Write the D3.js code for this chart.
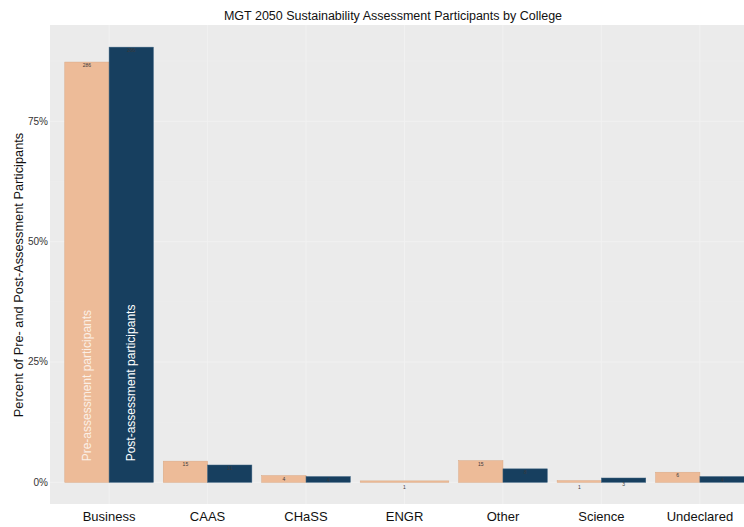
<!DOCTYPE html>
<html>
<head>
<meta charset="utf-8">
<script src="https://cdn.jsdelivr.net/npm/d3@7"></script>
<style>
  html, body { margin: 0; padding: 0; background: #ffffff; }
  svg { display: block; font-family: "Liberation Sans", Arial, sans-serif; }
</style>
</head>
<body>
<svg id="chart" width="744" height="527"></svg>
<script>
// ---- data ----
const categories = ["Business", "CAAS", "CHaSS", "ENGR", "Other", "Science", "Undeclared"];
const series = ["Pre-assessment participants", "Post-assessment participants"];
const prePct  = [87.3, 4.4, 1.4, 0.3, 4.5, 0.35, 2.1];
const postPct = [90.4, 3.6, 1.2, null, 2.8, 0.9, 1.2];
const preCount  = [286, 15, 4, 1, 15, 1, 6];
const postCount = [266, 11, 4, null, 8, 3, 4];
const yTicks = [0, 25, 50, 75];
const yTickLabels = ["0%", "25%", "50%", "75%"];

// ---- layout ----
const panel = { left: 50, right: 759, top: 25, bottom: 504 };
const colors = ["#EDBB98", "#173F5F"];

const svg = d3.select("#chart");

const x = d3.scaleBand()
  .domain(categories)
  .range([panel.left + 0.1 * 98.5, panel.right - 0.1 * 98.5])
  .paddingInner(0.1)
  .paddingOuter(0.05);
const xSub = d3.scaleBand().domain(series).range([0, x.bandwidth()]);

const y = d3.scaleLinear().domain([-4.5, 95]).range([panel.bottom, panel.top]);

svg.append("defs").append("clipPath").attr("id", "pclip")
  .append("rect").attr("x", panel.left).attr("y", panel.top)
  .attr("width", panel.right - panel.left).attr("height", panel.bottom - panel.top);

const g = svg.append("g").attr("clip-path", "url(#pclip)");
g.append("rect")
  .attr("x", panel.left).attr("y", panel.top)
  .attr("width", panel.right - panel.left).attr("height", panel.bottom - panel.top)
  .attr("fill", "#EBEBEB");

const minor = [12.5, 37.5, 62.5, 87.5];
g.selectAll(".minor").data(minor).join("line")
  .attr("x1", panel.left).attr("x2", panel.right)
  .attr("y1", d => y(d)).attr("y2", d => y(d))
  .attr("stroke", "#EFEFEF").attr("stroke-width", 0.6);
g.selectAll(".majory").data(yTicks).join("line")
  .attr("x1", panel.left).attr("x2", panel.right)
  .attr("y1", d => y(d)).attr("y2", d => y(d))
  .attr("stroke", "#F1F1F1").attr("stroke-width", 1);
g.selectAll(".majorx").data(categories).join("line")
  .attr("x1", d => x(d) + x.bandwidth() / 2).attr("x2", d => x(d) + x.bandwidth() / 2)
  .attr("y1", panel.top).attr("y2", panel.bottom)
  .attr("stroke", "#F1F1F1").attr("stroke-width", 1);

// bars (dodged; a category with only one series uses the full band)
const rows = [];
categories.forEach((c, i) => {
  const vals = [prePct[i], postPct[i]];
  const cnts = [preCount[i], postCount[i]];
  const present = [0, 1].filter(k => vals[k] != null && vals[k] > 0);
  present.forEach(k => {
    const full = present.length === 1;
    rows.push({
      c, k, v: vals[k], n: cnts[k],
      x0: full ? x(c) : x(c) + xSub(series[k]),
      w: full ? x.bandwidth() : xSub.bandwidth()
    });
  });
});
g.selectAll(".bar").data(rows).join("rect")
  .attr("x", d => d.x0)
  .attr("width", d => d.w)
  .attr("y", d => y(d.v))
  .attr("height", d => Math.max(0.8, y(0) - y(d.v)))
  .attr("fill", d => colors[d.k])
  .attr("stroke", d => d.k === 0 ? "#D9A883" : "#3C6381")
  .attr("stroke-width", 0.5);

g.selectAll(".cnt").data(rows.filter(d => d.n != null)).join("text")
  .attr("x", d => d.x0 + d.w / 2)
  .attr("y", d => y(d.v) + (d.v < 1 ? 8 : 5))
  .attr("text-anchor", "middle")
  .attr("font-size", 5)
  .attr("fill", "#3a3a3a")
  .text(d => d.n);

series.forEach((s, k) => {
  const cx = x(categories[0]) + xSub(s) + xSub.bandwidth() / 2;
  g.append("text")
    .attr("transform", `translate(${cx + 4},${y(0) - 21}) rotate(-90)`)
    .attr("font-size", 12)
    .attr("fill", k === 0 ? "#FBEFE6" : "#FFFFFF")
    .text(s);
});

svg.selectAll(".ytl").data(yTicks).join("text")
  .attr("x", 48).attr("y", d => y(d) + 3.5)
  .attr("text-anchor", "end")
  .attr("font-size", 10)
  .attr("fill", "#333333")
  .text((d, i) => yTickLabels[i]);

svg.selectAll(".xtl").data(categories).join("text")
  .attr("x", d => x(d) + x.bandwidth() / 2)
  .attr("y", 521)
  .attr("text-anchor", "middle")
  .attr("font-size", 13)
  .attr("fill", "#111111")
  .text(d => d);

svg.append("text")
  .attr("transform", `translate(23,275) rotate(-90)`)
  .attr("text-anchor", "middle")
  .attr("font-size", 12.8)
  .attr("fill", "#111111")
  .text("Percent of Pre- and Post-Assessment Participants");

svg.append("text")
  .attr("x", 393).attr("y", 19.5)
  .attr("text-anchor", "middle")
  .attr("font-size", 12.5)
  .attr("fill", "#111111")
  .text("MGT 2050 Sustainability Assessment Participants by College");
</script>
</body>
</html>
